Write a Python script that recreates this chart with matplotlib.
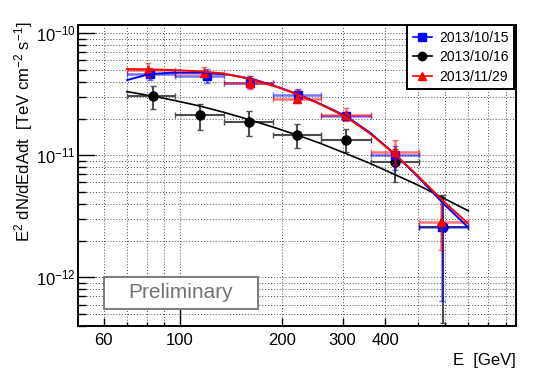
#Spectrum plot: E^2 dN/dE for three nights
import matplotlib
matplotlib.use('Agg')
import matplotlib.pyplot as plt
from matplotlib.patches import Rectangle
from matplotlib.lines import Line2D
from matplotlib.ticker import FixedLocator, FixedFormatter, NullFormatter

plt.rcParams['font.family'] = ['Liberation Sans', 'DejaVu Sans']
plt.rcParams['mathtext.default'] = 'regular'

# energy bins [GeV]
bin_lo = [70, 97, 135, 187, 260, 362, 503]
bin_hi = [97, 135, 187, 260, 362, 503, 700]

# 2013/10/15 (blue)
e_1015 = [82.0, 120, 161, 222, 307, 426, 586]
f_1015 = [4.64e-11, 4.49e-11, 3.95e-11, 3.13e-11, 2.09e-11, 1.015e-11, 2.57e-12]
f_1015_hi = [5.22e-11, 5.10e-11, 4.47e-11, 3.52e-11, 2.28e-11, 1.19e-11, 4.55e-12]
f_1015_lo = [4.14e-11, 3.94e-11, 3.54e-11, 2.80e-11, 1.95e-11, 7.58e-12, 6.4e-13]

# 2013/10/16 (black)
e_1016 = [83.3, 115, 160, 221, 307, 426, 590]
f_1016 = [3.05e-11, 2.13e-11, 1.89e-11, 1.48e-11, 1.34e-11, 8.81e-12, 2.57e-12]
f_1016_hi = [3.70e-11, 2.63e-11, 2.30e-11, 1.80e-11, 1.64e-11, 1.13e-11, 4.73e-12]
f_1016_lo = [2.41e-11, 1.60e-11, 1.45e-11, 1.14e-11, 1.06e-11, 6.08e-12, 4.2e-13]

# 2013/11/29 (red)
e_1129 = [80.8, 117.6, 160.8, 221, 307, 426, 582]
f_1129 = [5.0e-11, 4.77e-11, 3.92e-11, 2.92e-11, 2.14e-11, 1.064e-11, 2.84e-12]
f_1129_hi = [5.68e-11, 5.33e-11, 4.47e-11, 3.43e-11, 2.43e-11, 1.335e-11, 4.58e-12]
f_1129_lo = [4.38e-11, 4.36e-11, 3.50e-11, 2.67e-11, 1.91e-11, 8.32e-12, 1.67e-12]

# fitted spectra
fit_e_1015 = [70.2, 81.7, 96.7, 117.6, 140.2, 163.7, 196.3, 221.7, 259, 307.6, 360.5, 422, 499, 590, 696]
fit_f_1015 = [4.14e-11, 4.64e-11, 4.77e-11, 4.77e-11, 4.57e-11, 4.22e-11, 3.59e-11, 3.17e-11,
              2.63e-11, 2.09e-11, 1.538e-11, 1.052e-11, 6.64e-12, 4.06e-12, 2.60e-12]
fit_e_1016 = [70, 83, 97, 115, 135, 160, 187, 222, 260, 308, 362, 426, 503, 588, 700]
fit_f_1016 = [3.33e-11, 3.07e-11, 2.81e-11, 2.53e-11, 2.25e-11, 1.96e-11, 1.71e-11, 1.46e-11,
              1.245e-11, 1.03e-11, 8.57e-12, 6.97e-12, 5.64e-12, 4.51e-12, 3.51e-12]
fit_e_1129 = [70.2, 81.7, 100, 117.6, 134.6, 163.7, 196.3, 221.7, 259, 307.6, 360.5, 422, 499, 590, 696]
fit_f_1129 = [5.10e-11, 5.07e-11, 4.98e-11, 4.86e-11, 4.68e-11, 4.18e-11, 3.57e-11, 3.145e-11,
              2.61e-11, 2.06e-11, 1.51e-11, 1.052e-11, 6.76e-12, 4.24e-12, 2.79e-12]

x_major = [60, 100, 200, 300, 400]
x_minor = [70, 80, 90, 500, 600, 700, 800, 900]
y_major = [1e-12, 1e-11, 1e-10]
y_labels = ['$10^{-12}$', '$10^{-11}$', '$10^{-10}$']

fig, ax = plt.subplots(figsize=(5.54, 3.8), dpi=100)
fig.subplots_adjust(left=0.1413, right=0.9314, bottom=0.1421, top=0.9342)

ax.set_xscale('log')
ax.set_yscale('log')
ax.set_xlim(50.5, 965)
ax.set_ylim(4.0e-13, 1.17e-10)


def xerrs(e):
    return [[ei - lo for ei, lo in zip(e, bin_lo)], [hi - ei for ei, hi in zip(e, bin_hi)]]


def yerrs(f, lo, hi):
    return [[fi - l for fi, l in zip(f, lo)], [h - fi for fi, h in zip(f, hi)]]


ax.errorbar(e_1016, f_1016, xerr=xerrs(e_1016), yerr=yerrs(f_1016, f_1016_lo, f_1016_hi),
            fmt='o', color='black', ms=6.5, ecolor='0.3', elinewidth=1.5, capsize=2, zorder=3)
ax.errorbar(e_1015, f_1015, xerr=xerrs(e_1015), yerr=yerrs(f_1015, f_1015_lo, f_1015_hi),
            fmt='s', color='blue', ms=5.5, ecolor=(0, 0, 1, 0.55), elinewidth=1.8, capsize=2, zorder=4)
ax.errorbar(e_1129, f_1129, xerr=xerrs(e_1129), yerr=yerrs(f_1129, f_1129_lo, f_1129_hi),
            fmt='^', color='red', ms=6, ecolor=(1, 0, 0, 0.55), elinewidth=1.8, capsize=2, zorder=5)

ax.plot(fit_e_1016, fit_f_1016, color='black', lw=1.2, zorder=6)
ax.plot(fit_e_1015, fit_f_1015, color='blue', lw=1.4, zorder=6)
ax.plot(fit_e_1129, fit_f_1129, color='red', lw=1.4, zorder=7)

# axes, ticks, grid
ax.xaxis.set_major_locator(FixedLocator(x_major))
ax.xaxis.set_major_formatter(FixedFormatter([str(v) for v in x_major]))
ax.xaxis.set_minor_locator(FixedLocator(x_minor))
ax.xaxis.set_minor_formatter(NullFormatter())
ax.yaxis.set_major_locator(FixedLocator(y_major))
ax.yaxis.set_major_formatter(FixedFormatter(y_labels))
ax.tick_params(which='both', direction='in', top=False, right=False, width=1.0, labelsize=12)
ax.tick_params(axis='x', which='major', length=6, pad=5)
ax.tick_params(axis='x', which='minor', length=3)
ax.tick_params(axis='y', which='major', length=12, pad=2)
ax.tick_params(axis='y', which='minor', length=6)
ax.xaxis.get_major_ticks()[1].tick1line.set_markersize(12)
for s in ax.spines.values():
    s.set_linewidth(1.4)
ax.grid(True, which='both', ls=(0, (1, 2)), lw=0.7, color='0.3')

fig.text(24 / 554, 1 - 22 / 380, 'E$^{2}$ dN/dEdAdt  [TeV cm$^{-2}$ s$^{-1}$]',
         rotation=90, ha='center', va='top', fontsize=12)
fig.text(516 / 554, 1 - 361 / 380, 'E  [GeV]', ha='right', va='center', fontsize=12)

handles = [Line2D([], [], color='blue', marker='s', ms=5.5, lw=1.2),
           Line2D([], [], color='black', marker='o', ms=6, lw=1.2),
           Line2D([], [], color='red', marker='^', ms=6, lw=1.2)]
leg = ax.legend(handles, ['2013/10/15', '2013/10/16', '2013/11/29'], loc='upper right',
                bbox_to_anchor=(514 / 554, 1 - 25 / 380), bbox_transform=fig.transFigure,
                fontsize=10, fancybox=False, framealpha=1, edgecolor='black',
                handlelength=1.4, handletextpad=0.5, labelspacing=0.4, borderpad=0.4,
                borderaxespad=0)
leg.get_frame().set_linewidth(1.4)
leg.set_zorder(20)

fig.add_artist(Rectangle((104 / 554, 1 - 309 / 380), 154 / 554, 32 / 380,
                         transform=fig.transFigure, facecolor='white', edgecolor='0.45', lw=1.3))
fig.text(181 / 554, 1 - 293 / 380, 'Preliminary', ha='center', va='center',
         fontsize=15, color='0.45')

fig.savefig('out.png', dpi=100)
